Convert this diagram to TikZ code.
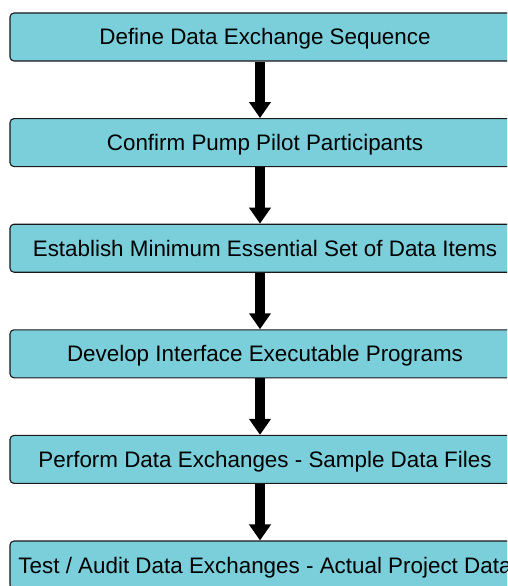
\documentclass[tikz,border=0pt]{standalone}
\usepackage{fontspec}
\setmainfont{Liberation Sans}
\usetikzlibrary{arrows.meta}
\definecolor{boxfill}{HTML}{7ACFDB}
\tikzset{
  stepbox/.style={draw=black!90, line width=1.1pt, fill=boxfill, rounded corners=4pt,
    minimum width=510pt, minimum height=48pt, inner sep=0pt,
    text height=16pt, text depth=0pt,
    font=\fontsize{22.4pt}{25pt}\selectfont, text=black},
  flowarrow/.style={line width=10pt, -{Triangle[width=21pt,length=16pt]}}
}
\begin{document}
\begin{tikzpicture}
\useasboundingbox (0,0) rectangle (507pt,-586pt);
\clip (0,0) rectangle (507pt,-586pt);
\node[stepbox] (b1) at (265pt,-37pt) {Define Data Exchange Sequence};
\node[stepbox] (b2) at (265pt,-142.6pt) {Confirm Pump Pilot Participants};
\node[stepbox] (b3) at (265pt,-248.2pt) {Establish Minimum Essential Set of Data Items};
\node[stepbox] (b4) at (265pt,-353.8pt) {Develop Interface Executable Programs};
\node[stepbox] (b5) at (265pt,-459.4pt) {Perform Data Exchanges - Sample Data Files};
\node[stepbox] (b6) at (265pt,-565pt) {Test / Audit Data Exchanges - Actual Project Data};
\foreach \a/\b in {b1/b2,b2/b3,b3/b4,b4/b5,b5/b6}
  \draw[flowarrow] ([xshift=-5pt]\a.south) -- ([xshift=-5pt]\b.north);
\end{tikzpicture}
\end{document}
